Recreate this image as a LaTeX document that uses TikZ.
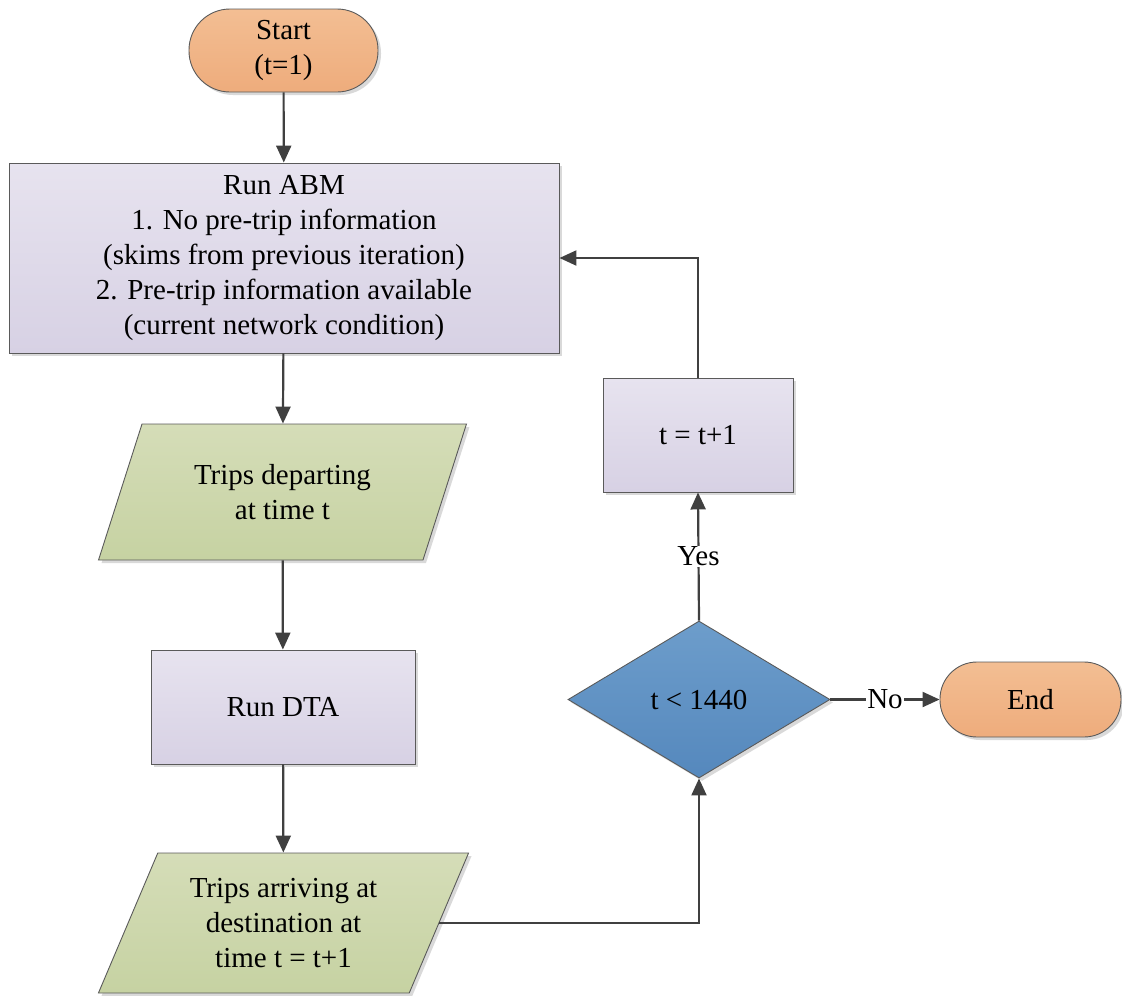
\documentclass[tikz,border=0pt]{standalone}
\usepackage{fontspec}
\setmainfont{Liberation Serif}
\usetikzlibrary{arrows.meta,shapes.geometric,shadows}
\definecolor{edge}{HTML}{404040}
\definecolor{outline}{HTML}{5A5A5A}
\definecolor{orangeT}{HTML}{F3BE93}
\definecolor{orangeB}{HTML}{EEAC7C}
\definecolor{lavT}{HTML}{E7E3EF}
\definecolor{lavB}{HTML}{D7D1E4}
\definecolor{greenT}{HTML}{D5DDB8}
\definecolor{greenB}{HTML}{C6D2A2}
\definecolor{blueT}{HTML}{6D9DCB}
\definecolor{blueB}{HTML}{5588BD}
\begin{document}
\begin{tikzpicture}[x=1pt,y=-1pt,
  font=\fontsize{29}{35}\selectfont,
  base/.style={draw=outline, line width=0.9pt, align=center, inner sep=0pt,
    drop shadow={shadow xshift=3pt, shadow yshift=-3pt, opacity=0.15, fill=black}},
  terminal/.style={base, rectangle, rounded corners=#1, top color=orangeT, bottom color=orangeB},
  process/.style={base, rectangle, top color=lavT, bottom color=lavB},
  io/.style={base, trapezium, trapezium left angle=63.7, trapezium right angle=116.3,
    trapezium stretches=true, top color=greenT, bottom color=greenB},
  decision/.style={base, diamond, top color=blueT, bottom color=blueB},
  flow/.style={draw=edge, line width=2.2pt, -{Triangle[length=17pt,width=15pt]}},
  tag/.style={fill=white, inner sep=1pt}
]
\useasboundingbox (0,0) rectangle (1122,996);

% main column
\node[terminal=41pt, minimum width=189pt, minimum height=83pt] (start) at (283.5,50.5) {Start\\(t=1)};
\node[process, minimum width=550pt, minimum height=190pt] (abm) at (284,258)
  {Run ABM\\1. No pre-trip information\\(skims from previous iteration)\\2. Pre-trip information available\\(current network condition)};
\node[io, minimum width=369pt, minimum height=136pt] (dep) at (282.5,492) {Trips departing\\at time t};
\node[process, minimum width=264pt, minimum height=114pt] (dta) at (283,707) {Run DTA};
\node[io, minimum width=371pt, minimum height=140pt] (arr) at (283.5,923) {Trips arriving at\\destination at\\time t = t+1};

% right column
\node[decision, minimum width=262pt, minimum height=157pt] (test) at (699,699.5) {t < 1440};
\node[process, minimum width=190pt, minimum height=114pt] (inc) at (698,435) {t = t+1};
\node[terminal=37pt, minimum width=181pt, minimum height=75pt] (end) at (1030.5,699.5) {End};

% connectors
\draw[flow] (start) -- (abm);
\draw[flow] (abm) -- (dep);
\draw[flow] (dep) -- (dta);
\draw[flow] (dta) -- (arr);
\draw[flow] (arr.east) -| (test.south);
\draw[flow] (test.north) -- node[tag] {Yes} (inc.south);
\draw[flow] (inc.north) |- (abm.east);
\draw[flow] (test.east) -- node[tag] {No} (end.west);
\end{tikzpicture}
\end{document}
